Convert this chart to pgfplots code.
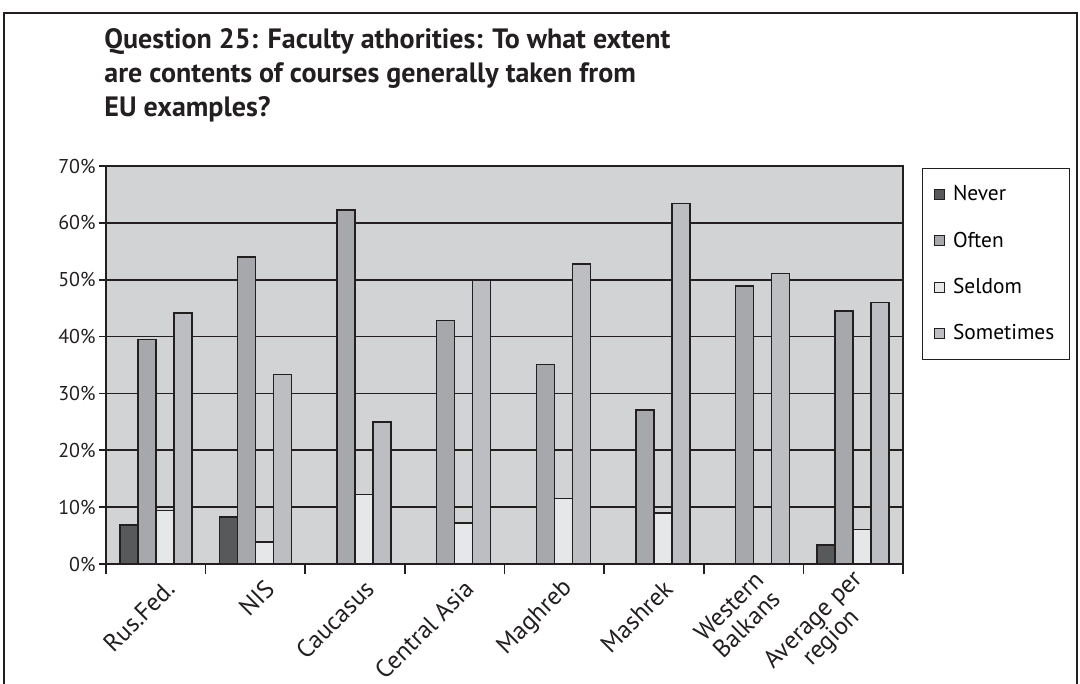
\documentclass[border=0pt]{standalone}
\usepackage{pgfplots}
\pgfplotsset{compat=1.18}
\usepackage{fontspec}
\setmainfont{PT Sans}
\definecolor{cnever}{HTML}{58595B}
\definecolor{coften}{HTML}{A7A8AB}
\definecolor{cseldom}{HTML}{E6E7E8}
\definecolor{csometimes}{HTML}{BDBEC1}
\definecolor{cbg}{HTML}{D2D3D5}
\definecolor{cline}{HTML}{231F20}
\begin{document}
\begin{tikzpicture}
\useasboundingbox (0,0) rectangle (540pt,-342pt);
\draw[line width=0.8pt, cline] (2pt,-342pt) -- (2pt,-6.5pt) -- (538.5pt,-6.5pt) -- (538.5pt,-342pt);
\node[anchor=north west, align=left, inner sep=0pt, font=\bfseries\fontsize{14}{16.5}\selectfont, text=cline] at (52pt,-14pt)
  {Question 25: Faculty athorities: To what extent\\[0.6pt]are contents of courses generally taken from\\[0.6pt]EU examples?};
\begin{axis}[
  at={(53pt,-282pt)}, anchor=south west,
  scale only axis, width=398.5pt, height=199pt,
  ybar=0pt, bar width=9pt,
  ymin=0, ymax=70, xmin=-0.5, xmax=7.5,
  ytick={0,10,...,70},
  yticklabel={\pgfmathprintnumber{\tick}\%},
  /pgf/number format/assume math mode=true,
  xtick={0,...,7},
  xticklabels={Rus.Fed.,NIS,Caucasus,Central Asia,Maghreb,Mashrek,{Western\\Balkans},{Average per\\region}},
  minor xtick={-0.5,0.5,...,7.5},
  major x tick style={draw=none},
  minor x tick style={cline, line width=0.8pt},
  minor tick length=5pt,
  y tick style={cline, line width=0.8pt},
  major tick length=3.5pt,
  tick align=outside,
  xtick pos=bottom, ytick pos=left,
  ymajorgrids, grid style={cline, line width=0.8pt},
  axis line style={cline, line width=0.8pt},
  axis background/.style={fill=cbg},
  yticklabel style={inner sep=1.5pt, font=\fontsize{10}{11}\selectfont, text=cline},
  xticklabel style={rotate=45, anchor=east, align=center, inner sep=1pt, xshift=1.4pt, yshift=-9.9pt,
    font=\fontsize{12.5}{12.5}\selectfont, text=cline},
  legend style={at={(1.024,0.995)}, anchor=north west, draw=cline, line width=0.6pt,
    font=\fontsize{10.7}{11}\selectfont, row sep=10pt, inner ysep=6.5pt, inner xsep=5.5pt,
    cells={anchor=west}},
  legend image code/.code={\draw[#1, draw=cline, line width=0.5pt] (0pt,-2.5pt) rectangle (5pt,2.5pt); \path (7pt,0pt);},
  every axis plot/.append style={draw=cline, line width=0.8pt},
]
\addplot[fill=cnever] coordinates {(0,6.9) (1,8.3) (7,3.3)};
\addplot[fill=coften] coordinates {(0,39.5) (1,54.0) (2,62.3) (3,42.8) (4,35.1) (5,27.1) (6,48.9) (7,44.5)};
\addplot[fill=cseldom] coordinates {(0,9.4) (1,3.9) (2,12.2) (3,7.2) (4,11.5) (5,9.0) (7,6.1)};
\addplot[fill=csometimes] coordinates {(0,44.2) (1,33.3) (2,25.0) (3,50.0) (4,52.8) (5,63.4) (6,51.1) (7,46.0)};
\legend{Never,Often,Seldom,Sometimes}
\end{axis}
\end{tikzpicture}
\end{document}
